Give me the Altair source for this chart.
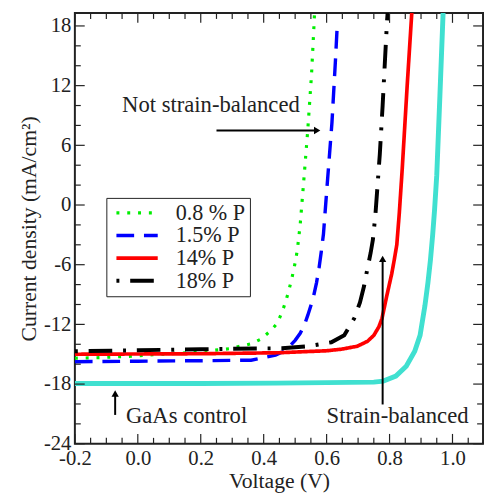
import altair as alt
import pandas as pd

# ---------------- data ----------------
series = ["0.8 % P", "1.5% P", "14% P", "18% P"]
series_colors = ["#00ee00", "#0000ff", "#ff0000", "#000000"]
series_dash = [[3, 8], [18, 10], [1, 0], [3, 11, 24, 11]]
series_width = [3.2, 4, 3.5, 4]

v_08 = [-0.2, -0.13, -0.02, 0.05, 0.18, 0.29, 0.325, 0.36, 0.39, 0.42, 0.443, 0.458, 0.469,
        0.479, 0.49, 0.5, 0.507, 0.516, 0.526, 0.54, 0.552, 0.559, 0.5625]
j_08 = [-15.4, -15.35, -15.2, -15.05, -14.8, -14.45, -14.2, -13.95, -13.5, -12.7, -11.9, -10.8, -9.8,
        -8.7, -7.3, -5.8, -4.5, -2.0, 1.9, 7.5, 13.1, 17.5, 19.9]

v_15 = [-0.2, 0.0, 0.2, 0.36, 0.4375, 0.465, 0.479, 0.5, 0.516, 0.53, 0.54, 0.557, 0.568, 0.576,
        0.583, 0.59, 0.6, 0.617, 0.628, 0.634]
j_15 = [-15.75, -15.7, -15.65, -15.6, -15.1, -14.7, -14.3, -13.6, -12.9, -12.0, -11.1, -9.4, -7.8, -6.3,
        -4.7, -2.9, 1.3, 8.3, 14.5, 18.2]

v_14 = [-0.2, 0.2, 0.45, 0.6, 0.646, 0.697, 0.73, 0.75, 0.766, 0.776, 0.79, 0.807, 0.815, 0.823,
        0.831, 0.84, 0.856, 0.872]
j_14 = [-15.0, -14.95, -14.85, -14.65, -14.5, -14.2, -13.7, -13.1, -12.25, -11.4, -9.3, -6.9, -5.5, -4.0,
        -0.8, 3.5, 12.0, 20.0]

v_18 = [-0.2, 0.0, 0.2, 0.3, 0.458, 0.54, 0.615, 0.656, 0.6875, 0.706, 0.719, 0.729, 0.74, 0.747,
        0.755, 0.769, 0.778, 0.786, 0.792, 0.795]
j_18 = [-14.7, -14.6, -14.5, -14.45, -14.4, -14.2, -13.8, -13.1, -11.4, -9.8, -8.15, -6.5, -4.8, -3.5,
        -1.0, 5.1, 10.0, 14.9, 18.5, 19.8]

v_ctrl = [-0.2, 0.2, 0.44, 0.6, 0.75, 0.78, 0.82, 0.853, 0.88, 0.897, 0.9125, 0.922, 0.93, 0.937,
          0.943, 0.95, 0.96, 0.971]
j_ctrl = [-17.95, -17.95, -17.9, -17.85, -17.8, -17.7, -17.2, -16.2, -14.7, -13.1, -10.1, -7.8, -5.5, -3.0,
          -0.5, 3.0, 11.0, 20.0]

volt_ticks = [-0.2, 0.0, 0.2, 0.4, 0.6, 0.8, 1.0]
volt_minor = [-0.15, -0.1, -0.05, 0.05, 0.1, 0.15, 0.25, 0.3, 0.35, 0.45, 0.5, 0.55,
              0.65, 0.7, 0.75, 0.85, 0.9, 0.95, 1.05]
cur_ticks = [-24, -18, -12, -6, 0, 6, 12, 18]
cur_minor = [-22, -20, -16, -14, -10, -8, -4, -2, 2, 4, 8, 10, 14, 16]

note_text = ["Not strain-balanced", "GaAs control", "Strain-balanced"]
note_v = [-0.05, -0.0375, 0.6]
note_j = [10.0, -21.2, -21.2]

arrow_v1 = [0.25, -0.072, 0.778]
arrow_j1 = [7.49, -21.1, -20.05]
arrow_v2 = [0.57, -0.072, 0.778]
arrow_j2 = [7.49, -18.95, -5.42]
head_shape = ["triangle-right", "triangle-up", "triangle-up"]

# ---------------- chart ----------------
W, H = 415, 438
FONT = "Liberation Serif"
INK = "#222222"

xs = alt.Scale(domain=[-0.2, 1.097], nice=False, zero=False)
ys = alt.Scale(domain=[-24, 19.3], nice=False, zero=False)

x_axis = alt.Axis(values=volt_ticks, title="Voltage (V)", ticks=False, domain=False, grid=False,
                  labelExpr="(datum.value < 0 ? '-' : '') + format(abs(datum.value), '.1f')",
                  labelFlush=False, labelOverlap=False, labelBound=False,
                  labelFont=FONT, labelFontSize=21, labelColor=INK, labelPadding=4,
                  titleFont=FONT, titleFontSize=22, titleFontWeight="normal", titleColor=INK,
                  titlePadding=2)
y_axis = alt.Axis(values=cur_ticks, title="Current density (mA/cm²)", ticks=False, domain=False,
                  grid=False, labelExpr="'' + datum.value",
                  labelFlush=False, labelOverlap=False, labelBound=False,
                  labelFont=FONT, labelFontSize=21, labelColor=INK, labelPadding=4,
                  titleFont=FONT, titleFontSize=22, titleFontWeight="normal", titleColor=INK,
                  titlePadding=3)


def X(field):
    return alt.X(field, type="quantitative", scale=xs, axis=x_axis)


def Y(field):
    return alt.Y(field, type="quantitative", scale=ys, axis=y_axis)


rows = []
for name, vv, jj in zip(series, [v_08, v_15, v_14, v_18], [j_08, j_15, j_14, j_18]):
    for i, (a, b) in enumerate(zip(vv, jj)):
        rows.append({"s": name, "V": a, "J": b, "o": i})
curves = pd.DataFrame(rows)
ctrl = pd.DataFrame({"V": v_ctrl, "J": j_ctrl})

leg = alt.Legend(
    orient="none", legendX=32, legendY=188, title=None,
    strokeColor=INK, fillColor="white", padding=4, rowPadding=-1,
    symbolType="M-1,0H4.25", symbolSize=256, symbolOffset=3, labelOffset=41,
    labelFont=FONT, labelFontSize=22.5, labelColor=INK, labelLimit=200,
)

ctrl_line = alt.Chart(ctrl).mark_line(color="#40e0d0", strokeWidth=5, clip=True).encode(
    x=X("V"), y=Y("J"),
)

lines = alt.Chart(curves).mark_line(clip=True, strokeCap="butt").encode(
    x=X("V"), y=Y("J"),
    order="o:Q",
    color=alt.Color("s:N", scale=alt.Scale(domain=series, range=series_colors), legend=leg),
    strokeDash=alt.StrokeDash("s:N", scale=alt.Scale(domain=series, range=series_dash), legend=leg),
    strokeWidth=alt.StrokeWidth("s:N", scale=alt.Scale(domain=series, range=series_width), legend=leg),
)


def vrule(vals, length, side):
    df = pd.DataFrame({"V": vals})
    base = alt.Chart(df).mark_rule(color=INK, strokeWidth=1.2)
    if side == "bottom":
        return base.encode(x=X("V"), y=alt.value(H), y2=alt.value(H - length))
    return base.encode(x=X("V"), y=alt.value(0), y2=alt.value(length))


def hrule(vals, length, side):
    df = pd.DataFrame({"J": vals})
    base = alt.Chart(df).mark_rule(color=INK, strokeWidth=1.2)
    if side == "left":
        return base.encode(y=Y("J"), x=alt.value(0), x2=alt.value(length))
    return base.encode(y=Y("J"), x=alt.value(W), x2=alt.value(W - length))


ticks = [
    vrule(volt_ticks, 10, "bottom"), vrule(volt_minor, 6, "bottom"),
    vrule(volt_ticks, 10, "top"), vrule(volt_minor, 6, "top"),
    hrule(cur_ticks, 10, "left"), hrule(cur_minor, 6, "left"),
    hrule(cur_ticks, 10, "right"), hrule(cur_minor, 6, "right"),
]

notes = alt.Chart(pd.DataFrame({"t": note_text, "V": note_v, "J": note_j})).mark_text(
    font=FONT, fontSize=23, color=INK, align="left", baseline="middle"
).encode(x=X("V"), y=Y("J"), text="t:N")

arrows_df = pd.DataFrame({"V": arrow_v1, "J": arrow_j1, "V2": arrow_v2, "J2": arrow_j2, "shape": head_shape})
arrow_lines = alt.Chart(arrows_df).mark_rule(color="black", strokeWidth=2).encode(
    x=X("V"), y=Y("J"), x2="V2:Q", y2="J2:Q",
)
arrow_heads = alt.Chart(arrows_df).mark_point(filled=True, color="black", size=55, opacity=1).encode(
    x=X("V2"), y=Y("J2"),
    shape=alt.Shape("shape:N", scale=None),
)

chart = alt.layer(ctrl_line, lines, *ticks, arrow_lines, arrow_heads, notes).properties(
    width=W, height=H,
    background="white",
    autosize=alt.AutoSizeParams(type="none"),
    padding={"left": 68, "top": 1, "right": 1, "bottom": 48},
).configure(font=FONT).configure_view(stroke=INK, strokeWidth=2).configure_axis(
    labelFont=FONT, titleFont=FONT, labelFontSize=21, titleFontSize=22,
    labelColor=INK, titleColor=INK, titleFontWeight="normal",
)

chart.save("out.html", embed_options={"renderer": "svg", "actions": False})
